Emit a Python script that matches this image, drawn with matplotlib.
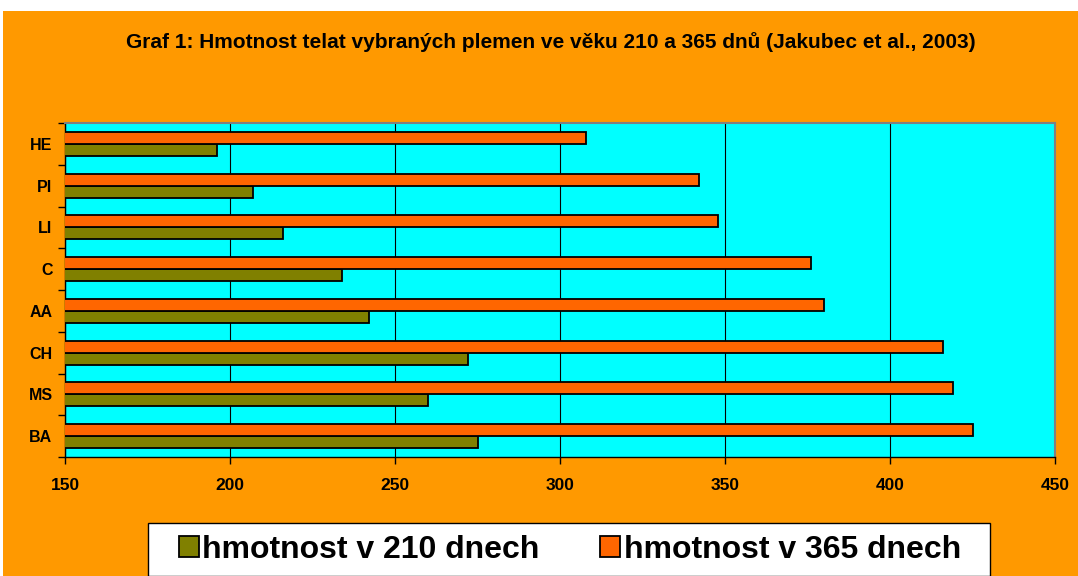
import matplotlib
matplotlib.use("Agg")
import matplotlib.pyplot as plt
from matplotlib.patches import Rectangle
import numpy as np

plt.rcParams['font.family'] = ['Liberation Sans', 'DejaVu Sans']

# data (bottom to top)
plemena = ["BA", "MS", "CH", "AA", "C", "LI", "PI", "HE"]
hm_210 = [275, 260, 272, 242, 234, 216, 207, 196]
hm_365 = [425, 419, 416, 380, 376, 348, 342, 308]
xticks = [150, 200, 250, 300, 350, 400, 450]

title = "Graf 1: Hmotnost telat vybraných plemen ve věku 210 a 365 dnů (Jakubec et al., 2003)"

fig = plt.figure(figsize=(10.78, 5.76), dpi=100)
fig.patch.set_facecolor("white")
fig.patches.append(Rectangle((3/1078, 0), 1, 1 - 11/576, transform=fig.transFigure,
                             facecolor="#FF9900", edgecolor="none", zorder=-10))

ax = fig.add_axes([65/1078, 1 - 457/576, 990/1078, 334/576])
ax.set_facecolor("#00FFFF")

y = np.arange(len(plemena))
h = 0.29
ax.barh(y - h/2, hm_210, height=h, left=0, color="#808000", edgecolor="black", linewidth=1.3, zorder=3)
ax.barh(y + h/2, hm_365, height=h, left=0, color="#FF6600", edgecolor="black", linewidth=1.3, zorder=3)

ax.set_xlim(150, 450)
ax.set_ylim(-0.5, len(plemena) - 0.5)
ax.set_xticks(xticks)
ax.set_xticklabels([str(v) for v in xticks], fontsize=12.5, fontweight="bold")
ax.set_yticks(y)
ax.set_yticklabels(plemena, fontsize=11.5, fontweight="bold")
ax.set_yticks(np.arange(-0.5, len(plemena)), minor=True)
ax.tick_params(axis="y", which="major", length=0, pad=9)
ax.tick_params(axis="y", which="minor", length=5, direction="out", width=1)
ax.tick_params(axis="x", length=5, direction="out", width=1, pad=10)
ax.xaxis.grid(True, color="black", linewidth=0.8, zorder=1)
ax.set_axisbelow(True)
for s in ["top", "right"]:
    ax.spines[s].set_color("#808080")
    ax.spines[s].set_linewidth(1.5)
for s in ["left", "bottom"]:
    ax.spines[s].set_color("black")
    ax.spines[s].set_linewidth(1)

fig.text(551/1078, 1 - 48/576, title, ha="center", va="baseline", fontsize=15, fontweight="bold")

# legend box
fig.patches.append(Rectangle((148/1078, 0), (990 - 148)/1078, 53/576, transform=fig.transFigure,
                             facecolor="white", edgecolor="black", linewidth=1, zorder=1))
handles = [Rectangle((0, 0), 1, 1, facecolor="#808000", edgecolor="black", linewidth=1.3),
           Rectangle((0, 0), 1, 1, facecolor="#FF6600", edgecolor="black", linewidth=1.3)]
leg = fig.legend(handles, ["hmotnost v 210 dnech", "hmotnost v 365 dnech"],
                 loc="center", bbox_to_anchor=(570/1078, 26/576), ncol=2, frameon=False,
                 prop={"size": 23, "weight": "bold"}, handlelength=0.62, handleheight=0.62,
                 handletextpad=0.12, columnspacing=1.9)

fig.savefig("out.png", dpi=100)
